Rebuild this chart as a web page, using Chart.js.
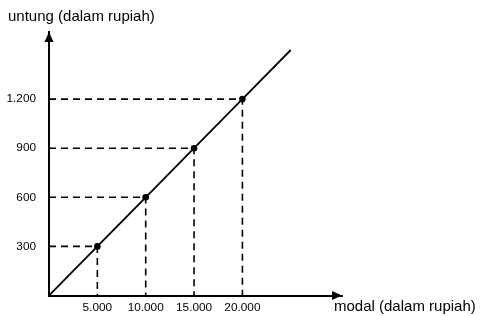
<!DOCTYPE html>
<html>
<head>
<meta charset="utf-8">
<script src="https://cdn.jsdelivr.net/npm/chart.js@4/dist/chart.umd.min.js"></script>
<style>
html,body{margin:0;padding:0;background:#fff;}
#wrap{width:482px;height:316px;position:relative;}
</style>
</head>
<body>
<div id="wrap"><canvas id="c"></canvas></div>
<script>
// Data
const modal = [0, 5000, 10000, 15000, 20000, 25000];       // x values (rupiah)
const untung = [0, 300, 600, 900, 1200, 1500];             // y values (rupiah)
const markedIdx = [1, 2, 3, 4];                             // points marked with dots and guides
const xTickValues = [5000, 10000, 15000, 20000];
const xTickLabels = ["5.000", "10.000", "15.000", "20.000"];
const yTickValues = [300, 600, 900, 1200];
const yTickLabels = ["300", "600", "900", "1.200"];
const xAxisMax = 30300;
const yAxisMax = 1610;
const yTitle = "untung (dalam rupiah)";
const xTitle = "modal (dalam rupiah)";

const FONT = "'Liberation Sans', Arial, sans-serif";

const mainData = modal.map((m, i) => ({x: m, y: untung[i]}));
const pointRadii = modal.map((m, i) => markedIdx.includes(i) ? 3.3 : 0);

const guideSets = markedIdx.map(i => ({
  data: [{x: 0, y: untung[i]}, {x: modal[i], y: untung[i]}, {x: modal[i], y: 0}],
  borderColor: '#000',
  borderWidth: 1.6,
  borderDash: [7, 5],
  pointRadius: 0,
  showLine: true,
  fill: false,
  tension: 0
}));

const arrowsAndTitles = {
  id: 'arrowsAndTitles',
  afterDraw(chart) {
    const ctx = chart.ctx;
    const xs = chart.scales.x, ys = chart.scales.y;
    const x0 = xs.getPixelForValue(0), y0 = ys.getPixelForValue(0);
    const xEnd = xs.getPixelForValue(xAxisMax);
    const yEnd = ys.getPixelForValue(yAxisMax);
    ctx.save();
    ctx.fillStyle = '#000';
    // x arrow
    ctx.beginPath();
    ctx.moveTo(xEnd, y0);
    ctx.lineTo(xEnd - 10, y0 - 4.5);
    ctx.lineTo(xEnd - 10, y0 + 4.5);
    ctx.closePath();
    ctx.fill();
    // y arrow
    ctx.beginPath();
    ctx.moveTo(x0, yEnd);
    ctx.lineTo(x0 - 4.5, yEnd + 10);
    ctx.lineTo(x0 + 4.5, yEnd + 10);
    ctx.closePath();
    ctx.fill();
    // titles
    ctx.font = "15px " + FONT;
    ctx.textBaseline = 'middle';
    ctx.textAlign = 'left';
    ctx.fillText(yTitle, 8, 17);
    ctx.fillText(xTitle, xEnd - 8, 307);
    ctx.restore();
  }
};

new Chart(document.getElementById('c'), {
  type: 'scatter',
  data: {
    datasets: [
      {
        data: mainData,
        borderColor: '#000',
        backgroundColor: '#000',
        borderWidth: 1.8,
        showLine: true,
        pointRadius: pointRadii,
        pointHoverRadius: pointRadii,
        pointBorderWidth: 0,
        tension: 0
      },
      ...guideSets
    ]
  },
  options: {
    responsive: true,
    maintainAspectRatio: false,
    animation: false,
    events: [],
    layout: {padding: {top: 32, right: 140, left: 0, bottom: 0}},
    plugins: {legend: {display: false}, tooltip: {enabled: false}, title: {display: false}},
    scales: {
      x: {
        type: 'linear',
        min: 0,
        max: xAxisMax,
        grid: {display: false, drawTicks: false},
        border: {display: true, color: '#000', width: 2},
        afterBuildTicks: s => { s.ticks = xTickValues.map(v => ({value: v})); },
        afterFit: s => { s.height = 20.5; },
        ticks: {
          color: '#000',
          padding: 5,
          maxRotation: 0,
          autoSkip: false,
          font: {family: FONT, size: 11.8},
          callback: (v) => { const k = xTickValues.indexOf(v); return k >= 0 ? xTickLabels[k] : ''; }
        }
      },
      y: {
        type: 'linear',
        min: 0,
        max: yAxisMax,
        grid: {display: false, drawTicks: false},
        border: {display: true, color: '#000', width: 2},
        afterBuildTicks: s => { s.ticks = yTickValues.map(v => ({value: v})); },
        afterFit: s => { s.width = 49; },
        ticks: {
          color: '#000',
          padding: 13,
          autoSkip: false,
          font: {family: FONT, size: 11.8},
          callback: (v) => { const k = yTickValues.indexOf(v); return k >= 0 ? yTickLabels[k] : ''; }
        }
      }
    }
  },
  plugins: [arrowsAndTitles]
});
</script>
</body>
</html>
